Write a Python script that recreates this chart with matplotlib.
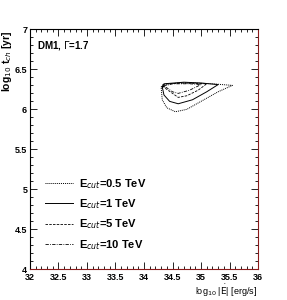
import matplotlib
matplotlib.use("Agg")
import matplotlib.pyplot as plt
from matplotlib.ticker import MultipleLocator

plt.rcParams['font.family'] = ['Liberation Sans', 'DejaVu Sans']

# loops in (log10 Edot, log10 t_ch)
x_05 = [34.30, 34.33, 34.6, 34.9, 35.2, 35.55, 35.3, 35.0, 34.75, 34.55, 34.4, 34.32, 34.30]
y_05 = [6.28, 6.31, 6.33, 6.33, 6.32, 6.30, 6.22, 6.10, 6.00, 5.97, 6.02, 6.12, 6.28]

x_1 = [34.32, 34.35, 34.7, 35.0, 35.3, 35.1, 34.85, 34.6, 34.45, 34.35, 34.32]
y_1 = [6.28, 6.32, 6.34, 6.33, 6.31, 6.22, 6.12, 6.07, 6.10, 6.18, 6.28]

x_5 = [34.33, 34.4, 34.7, 35.1, 34.95, 34.75, 34.6, 34.5, 34.38, 34.33]
y_5 = [6.29, 6.32, 6.33, 6.32, 6.24, 6.17, 6.15, 6.20, 6.26, 6.29]

x_10 = [34.34, 34.5, 34.8, 35.0, 34.8, 34.6, 34.5, 34.4, 34.34]
y_10 = [6.29, 6.32, 6.32, 6.31, 6.24, 6.20, 6.22, 6.27, 6.29]

fig = plt.figure(figsize=(2.87, 3.0), dpi=100)
ax = fig.add_axes([0.1045, 0.103, 0.7945, 0.7987])

ax.plot(x_05, y_05, color='k', lw=0.7, ls=(0, (1, 1)), label=r'E$_{cut}$=0.5 TeV')
ax.plot(x_1, y_1, color='k', lw=0.7, ls='-', label=r'E$_{cut}$=1 TeV')
ax.plot(x_5, y_5, color='k', lw=0.6, ls=(0, (3, 1.5)), label=r'E$_{cut}$=5 TeV')
ax.plot(x_10, y_10, color='k', lw=0.6, ls=(0, (4, 1.5, 1, 1.5)), label=r'E$_{cut}$=10 TeV')

ax.set_xlim(32, 36)
ax.set_ylim(4, 7)
ax.xaxis.set_major_locator(MultipleLocator(0.5))
ax.xaxis.set_minor_locator(MultipleLocator(0.1))
ax.yaxis.set_major_locator(MultipleLocator(0.5))
ax.yaxis.set_minor_locator(MultipleLocator(0.1))
ax.xaxis.set_major_formatter(plt.FuncFormatter(lambda v, p: '%g' % v))
ax.yaxis.set_major_formatter(plt.FuncFormatter(lambda v, p: '%g' % v))
ax.tick_params(which='both', direction='in', top=True, right=True, labelsize=6.5, pad=2)
ax.tick_params(axis='x', which='major', pad=3)
ax.tick_params(which='major', length=5, width=0.6)
ax.tick_params(which='minor', length=2.5, width=0.6)
for lab in ax.get_xticklabels() + ax.get_yticklabels():
    lab.set_fontweight('bold')

for s in ['top', 'left']:
    ax.spines[s].set_linewidth(0.8)
for s in ['bottom', 'right']:
    ax.spines[s].set_color('#8b1a1a')
    ax.spines[s].set_linewidth(0.8)

fig.text(0.026, 0.90, r'log$_{10}$ t$_{ch}$ [yr]', rotation=90, ha='center', va='top',
         fontsize=7.5, fontweight='bold')
fig.text(0.895, 0.058, r'log$_{10}$ |$\dot{\mathrm{E}}$| [erg/s]', ha='right', va='top',
         fontsize=6.5)
ax.text(0.03, 0.96, r'DM1, $\Gamma$=1.7', transform=ax.transAxes, ha='left', va='top',
        fontsize=7, fontweight='bold')

leg = ax.legend(loc='lower left', bbox_to_anchor=(0.02, 0.03), frameon=False,
                fontsize=8, handlelength=2.6, labelspacing=0.6, handletextpad=0.5)
for t in leg.get_texts():
    t.set_fontweight('bold')

fig.savefig('out.png', dpi=100)
